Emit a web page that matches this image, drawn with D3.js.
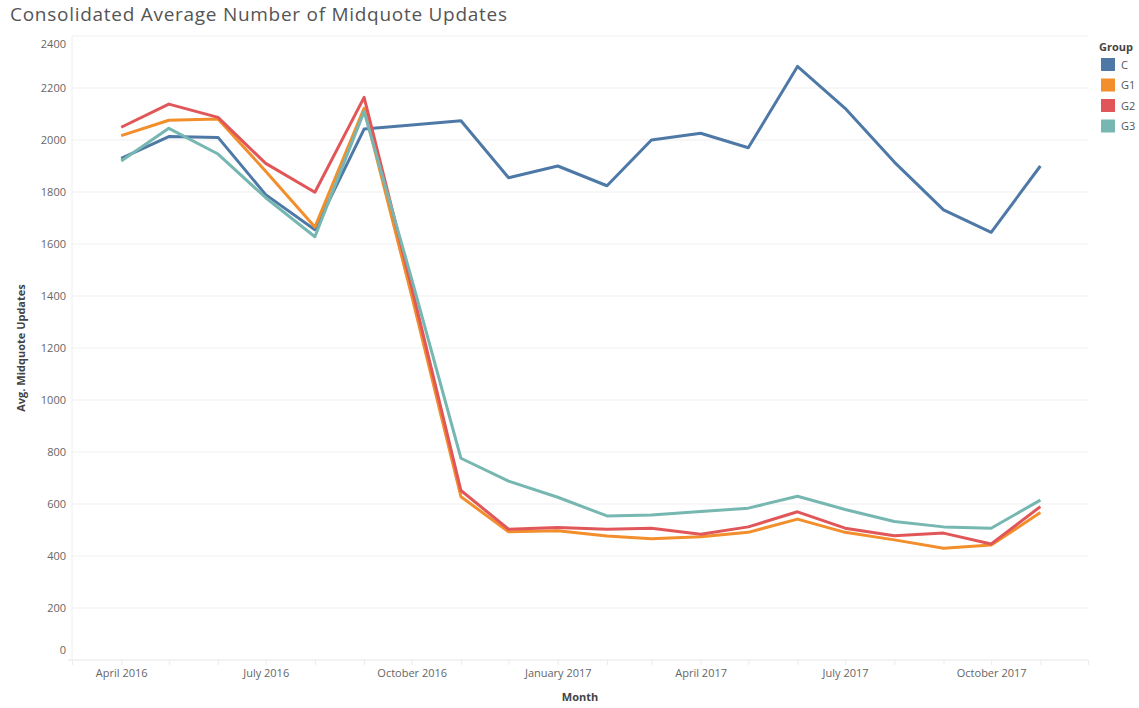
<!DOCTYPE html>
<html>
<head>
<meta charset="utf-8">
<script src="https://cdn.jsdelivr.net/npm/d3@7"></script>
<style>
  body { margin: 0; background: #fff; }
  text { font-family: 'Open Sans', Lato, sans-serif; }
</style>
</head>
<body>
<svg width="1139" height="708"></svg>
<script>
const months = ['2016-04', '2016-05', '2016-06', '2016-07', '2016-08', '2016-09', '2016-10',
	'2016-11', '2016-12', '2017-01', '2017-02', '2017-03', '2017-04', '2017-05', '2017-06',
	'2017-07', '2017-08', '2017-09', '2017-10', '2017-11']

const groups = ['C', 'G1', 'G2', 'G3']
const colors = ['#4e79a7', '#f28e2b', '#e15759', '#76b7b2']

const valuesC  = [1929, 2013, 2010, 1790, 1655, 2042, 2058, 2074, 1855, 1900, 1824, 2000, 2026, 1970, 2283, 2122, 1915, 1731, 1645, 1900]
const valuesG1 = [2017, 2076, 2081, 1880, 1665, 2122, 1400, 628, 493, 497, 477, 466, 474, 491, 542, 491, 462, 430, 442, 567]
const valuesG2 = [2049, 2138, 2087, 1910, 1799, 2164, 1433, 652, 503, 510, 503, 507, 484, 512, 570, 507, 478, 488, 446, 590]
const valuesG3 = [1919, 2045, 1946, 1778, 1628, 2109, 1465, 776, 688, 626, 554, 558, 571, 584, 630, 579, 533, 512, 507, 615]

const yTicks = [0, 200, 400, 600, 800, 1000, 1200, 1400, 1600, 1800, 2000, 2200, 2400]
const xLabelMonths = ['2016-04', '2016-07', '2016-10', '2017-01', '2017-04', '2017-07', '2017-10']

const parse = d3.timeParse('%Y-%m')
const series = [valuesC, valuesG1, valuesG2, valuesG3].map((vals, i) => ({
	name: groups[i],
	color: colors[i],
	points: vals.map((v, j) => ({ date: parse(months[j]), value: v }))
}))

const svg = d3.select('svg')

const plotLeft = 72, plotRight = 1088, plotTop = 36, plotBottom = 660

const x = d3.scaleTime()
	.domain([parse('2016-03'), parse('2017-12')])
	.range([plotLeft, plotRight])

const y = d3.scaleLinear()
	.domain([0, 2400])
	.range([plotBottom, plotTop])

// title
svg.append('text')
	.attr('x', 10)
	.attr('y', 21)
	.attr('font-size', 19)
	.attr('fill', '#555')
	.attr('textLength', 497)
	.text('Consolidated Average Number of Midquote Updates')

// gridlines
svg.append('g')
	.selectAll('line')
	.data(yTicks.filter(d => d > 0))
	.join('line')
	.attr('x1', plotLeft)
	.attr('x2', plotRight)
	.attr('y1', d => y(d))
	.attr('y2', d => y(d))
	.attr('stroke', '#efefef')
	.attr('stroke-width', 1)

// axis frame
svg.append('line')
	.attr('x1', plotLeft).attr('x2', plotLeft)
	.attr('y1', plotTop).attr('y2', plotBottom)
	.attr('stroke', '#eeeeee')
svg.append('line')
	.attr('x1', 68).attr('x2', plotRight)
	.attr('y1', plotBottom).attr('y2', plotBottom)
	.attr('stroke', '#e6e6e6')

// y tick labels (edge labels pulled inside like tableau)
svg.append('g')
	.selectAll('text')
	.data(yTicks)
	.join('text')
	.attr('x', 66)
	.attr('y', d => d === 2400 ? y(d) + 8 : d === 0 ? y(d) - 10 : y(d))
	.attr('dy', '0.35em')
	.attr('text-anchor', 'end')
	.attr('font-size', 11)
	.attr('fill', '#666')
	.text(d => d)

// x axis ticks + labels
const xAxis = d3.axisBottom(x)
	.ticks(d3.timeMonth.every(1))
	.tickSize(5)
	.tickFormat(d => xLabelMonths.includes(d3.timeFormat('%Y-%m')(d)) ? d3.timeFormat('%B %Y')(d) : '')

const gx = svg.append('g')
	.attr('transform', `translate(0,${plotBottom})`)
	.call(xAxis)
gx.select('.domain').remove()
gx.selectAll('.tick line').attr('stroke', '#ececec')
gx.selectAll('.tick text')
	.attr('y', 9)
	.attr('font-size', 11)
	.attr('font-family', "'Open Sans', sans-serif")
	.attr('fill', '#666')

// axis titles
svg.append('text')
	.attr('transform', `translate(25,${(plotTop + plotBottom) / 2}) rotate(-90)`)
	.attr('text-anchor', 'middle')
	.attr('font-size', 11)
	.attr('font-weight', 'bold')
	.attr('fill', '#444')
	.text('Avg. Midquote Updates')

svg.append('text')
	.attr('x', 580)
	.attr('y', 701)
	.attr('text-anchor', 'middle')
	.attr('font-size', 11)
	.attr('font-weight', 'bold')
	.attr('fill', '#444')
	.text('Month')

// lines
const line = d3.line()
	.x(d => x(d.date))
	.y(d => y(d.value))

svg.append('g')
	.selectAll('path')
	.data(series)
	.join('path')
	.attr('d', d => line(d.points))
	.attr('fill', 'none')
	.attr('stroke', d => d.color)
	.attr('stroke-width', 3)
	.attr('stroke-linejoin', 'round')

// legend
const legend = svg.append('g')
	.attr('transform', 'translate(1099,0)')

legend.append('text')
	.attr('x', 0)
	.attr('y', 51)
	.attr('font-size', 11)
	.attr('font-weight', 'bold')
	.attr('fill', '#444')
	.text('Group')

const item = legend.selectAll('g.item')
	.data(series)
	.join('g')
	.attr('class', 'item')
	.attr('transform', (d, i) => `translate(0,${58 + i * 20.5})`)

item.append('rect')
	.attr('x', 2)
	.attr('width', 14)
	.attr('height', 13)
	.attr('fill', d => d.color)

item.append('text')
	.attr('x', 22)
	.attr('y', 7)
	.attr('dy', '0.35em')
	.attr('font-size', 11)
	.attr('fill', '#555')
	.text(d => d.name)
</script>
</body>
</html>
